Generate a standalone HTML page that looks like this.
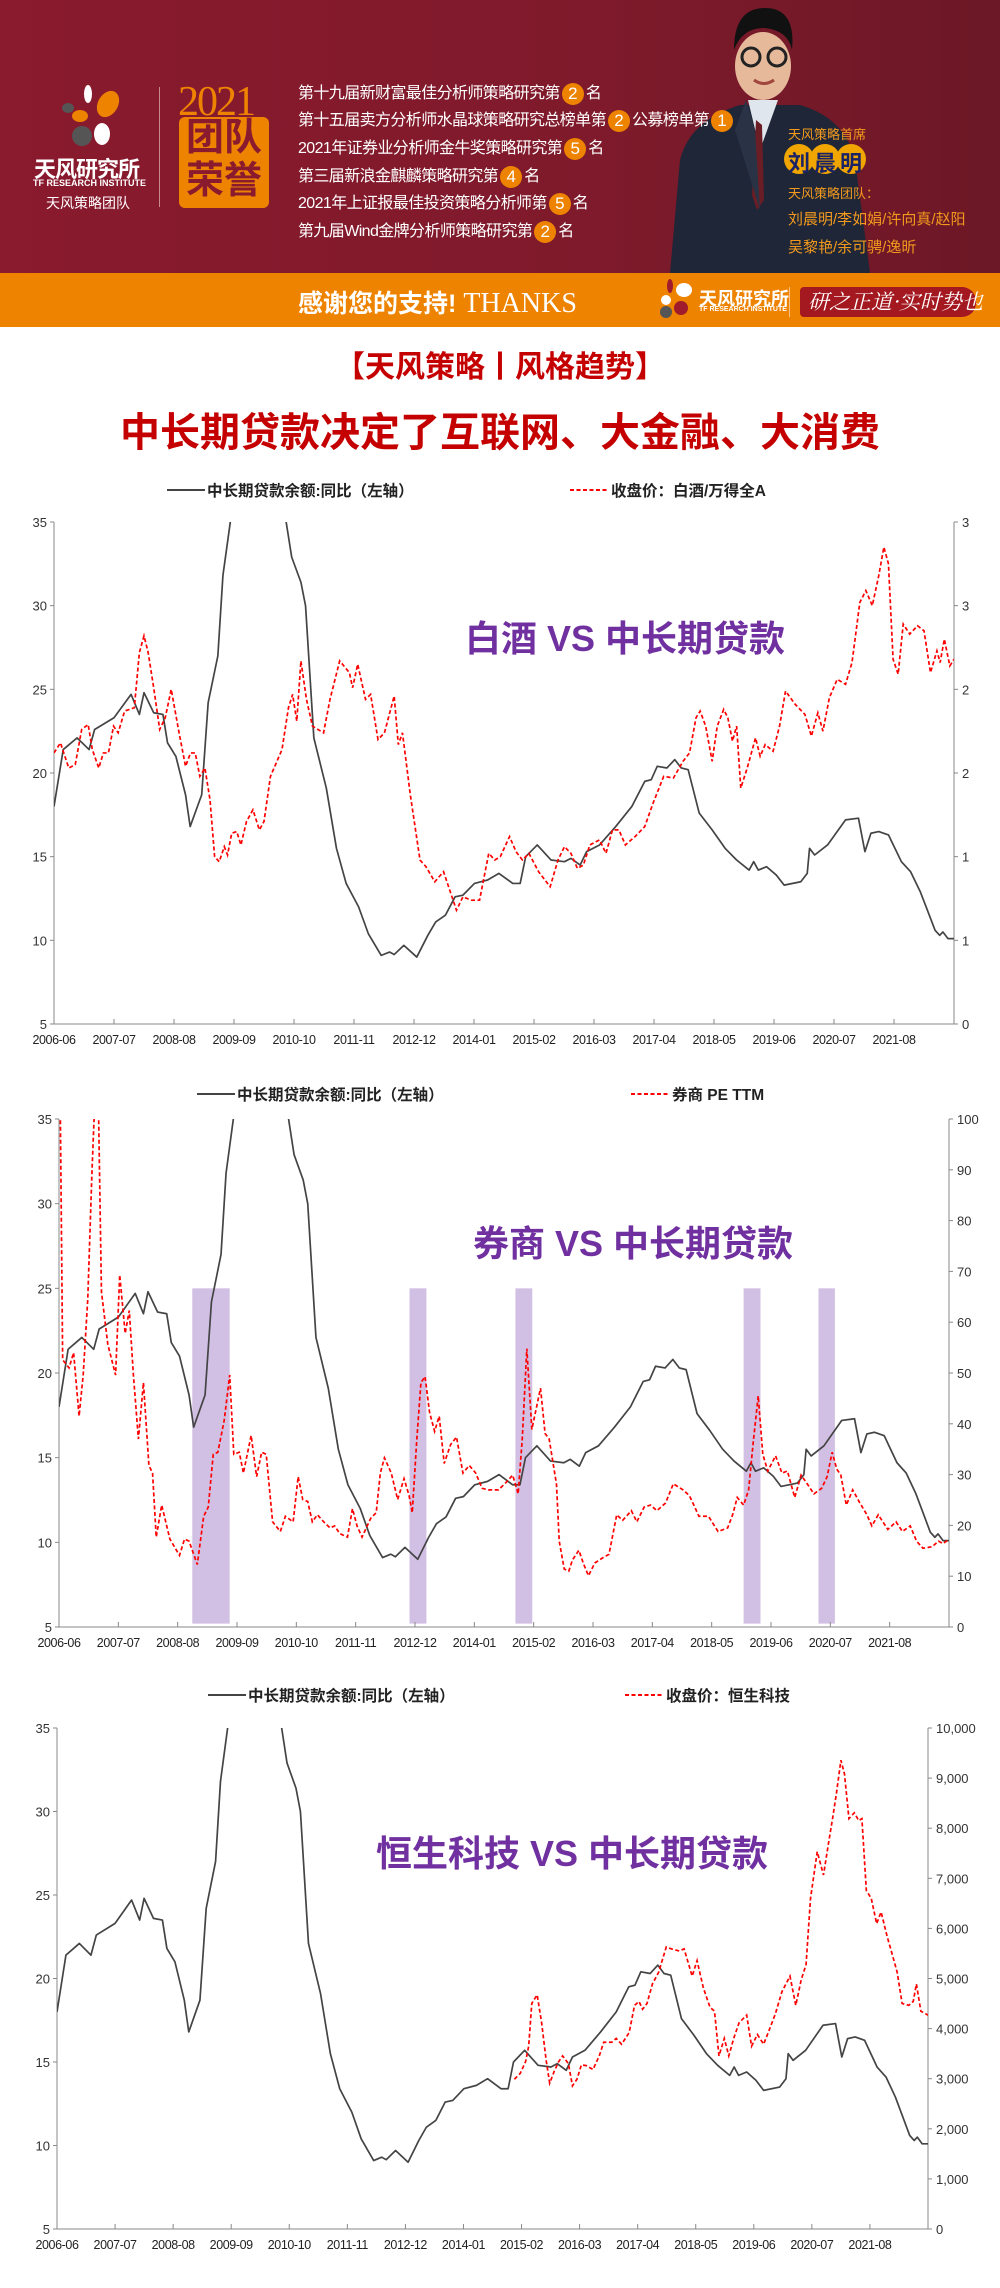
<!DOCTYPE html>
<html><head><meta charset="utf-8">
<style>
*{margin:0;padding:0;box-sizing:border-box}
body{width:1000px;height:2288px;background:#fff;position:relative;overflow:hidden;font-family:"Liberation Sans","Noto Sans CJK SC",sans-serif}
.a{position:absolute;white-space:nowrap}
#hdr{position:absolute;left:0;top:0;width:1000px;height:273px;background:linear-gradient(90deg,#8a1a2e 0%,#7e1a2b 60%,#6c1826 100%)}
#band{position:absolute;left:0;top:273px;width:1000px;height:54px;background:#ee8300}
.aw{color:#fff;font-size:16px;letter-spacing:-0.6px;left:298px}
.c{display:inline-block;width:22px;height:22px;border-radius:50%;background:#ee8300;color:#fff;text-align:center;line-height:22px;font-size:17px;margin:0 2px;vertical-align:middle;letter-spacing:0}
.or{color:#f39a1e}
</style></head><body>
<div id="hdr"></div>
<div id="band"></div>
<!-- person -->
<svg class="a" style="left:660px;top:0" width="220" height="273" viewBox="0 0 220 273">
<path d="M10 273 L20 160 Q30 120 80 105 L140 105 Q185 118 195 160 L210 273 Z" fill="#1e2637"/>
<path d="M88 100 L100 150 L118 100 Z" fill="#dfe6ee"/>
<path d="M96 120 L102 125 L104 200 L97 210 L92 195 Z" fill="#6b1d25"/>
<path d="M86 100 L75 130 L100 210 L95 130 Z" fill="#2a3346"/>
<ellipse cx="103" cy="66" rx="28" ry="34" fill="#e5b99a"/>
<path d="M74 50 Q74 8 105 8 Q136 8 132 50 Q128 30 104 28 Q82 28 74 50Z" fill="#111"/>
<circle cx="91" cy="57" r="9" fill="none" stroke="#222" stroke-width="3"/>
<circle cx="117" cy="57" r="9" fill="none" stroke="#222" stroke-width="3"/>
<path d="M94 80 Q104 87 114 80" stroke="#a0463d" stroke-width="3" fill="none"/>
</svg>
<!-- logo -->
<svg class="a" style="left:60px;top:84px" width="70" height="66" viewBox="0 0 70 66">
<ellipse cx="28" cy="10" rx="4" ry="9" fill="#fff"/>
<ellipse cx="48" cy="20" rx="10" ry="14" fill="#ee8300" transform="rotate(30 48 20)"/>
<ellipse cx="20" cy="32" rx="8" ry="6" fill="#ee8300"/>
<circle cx="22" cy="52" r="10" fill="#555"/>
<ellipse cx="42" cy="50" rx="8" ry="11" fill="#fff"/>
<ellipse cx="8" cy="24" rx="6" ry="5" fill="#555"/>
</svg>
<div class="a" style="left:34px;top:152px;color:#fff;font-size:22px;font-weight:bold;letter-spacing:-1px">天风研究所</div>
<div class="a" style="left:33px;top:178px;color:#fff;font-size:9px;font-weight:bold">TF RESEARCH INSTITUTE</div>
<div class="a" style="left:46px;top:193px;color:#fff;font-size:14px">天风策略团队</div>
<div class="a" style="left:159px;top:87px;width:1px;height:120px;background:#c98a8a"></div>
<div class="a" style="left:178px;top:78px;color:#ee8300;font-family:'Liberation Serif',serif;font-size:42px;letter-spacing:-2px">2021</div>
<div class="a" style="left:179px;top:117px;width:90px;height:91px;background:#ee8300;border-radius:6px;color:#8a1a2e;font-size:38px;font-weight:bold;line-height:43px;text-align:center">团队<br>荣誉</div>
<div class="a aw" style="top:79px">第十九届新财富最佳分析师策略研究第<span class="c">2</span>名</div>
<div class="a aw" style="top:106px">第十五届卖方分析师水晶球策略研究总榜单第<span class="c">2</span>公募榜单第<span class="c">1</span></div>
<div class="a aw" style="top:134px">2021年证券业分析师金牛奖策略研究第<span class="c">5</span>名</div>
<div class="a aw" style="top:162px">第三届新浪金麒麟策略研究第<span class="c">4</span>名</div>
<div class="a aw" style="top:189px">2021年上证报最佳投资策略分析师第<span class="c">5</span>名</div>
<div class="a aw" style="top:217px">第九届Wind金牌分析师策略研究第<span class="c">2</span>名</div>
<div class="a or" style="left:788px;top:124px;font-size:13px">天风策略首席</div>
<svg class="a" style="left:783px;top:143px" width="86" height="32"><circle cx="16" cy="16" r="15" fill="#f0a500"/><circle cx="42" cy="16" r="15" fill="#f0a500"/><circle cx="68" cy="16" r="15" fill="#f0a500"/></svg>
<div class="a" style="left:788px;top:146px;color:#1a2366;font-size:22px;font-weight:bold;letter-spacing:4px">刘晨明</div>
<div class="a or" style="left:788px;top:183px;font-size:13px">天风策略团队：</div>
<div class="a or" style="left:788px;top:208px;font-size:15px">刘晨明/李如娟/许向真/赵阳</div>
<div class="a or" style="left:788px;top:236px;font-size:15px">吴黎艳/余可骋/逸昕</div>
<!-- band -->
<div class="a" style="left:298px;top:284px;color:#fff;font-size:25px;font-weight:bold">感谢您的支持!<span style="font-family:'Liberation Serif',serif;font-weight:normal;font-size:28px"> THANKS</span></div>
<svg class="a" style="left:656px;top:276px" width="40" height="44"><ellipse cx="14" cy="10" rx="3" ry="7" fill="#a01c2c"/><ellipse cx="28" cy="14" rx="8" ry="7" fill="#fff"/><circle cx="10" cy="24" r="5" fill="#fff"/><circle cx="10" cy="36" r="6" fill="#555"/><circle cx="25" cy="32" r="7" fill="#a01c2c"/></svg>
<div class="a" style="left:699px;top:285px;color:#fff;font-size:18px;font-weight:bold">天风研究所</div>
<div class="a" style="left:699px;top:306px;color:#fff;font-size:7px;font-weight:bold">TF RESEARCH INSTITUTE</div>
<div class="a" style="left:789px;top:287px;width:1px;height:30px;background:#f8c080"></div>
<div class="a" style="left:800px;top:287px;width:176px;height:30px;background:#a41820;border-radius:4px 14px 14px 4px"></div>
<div class="a" style="left:808px;top:286px;color:#fff;font-size:21px;font-style:italic;font-family:'Noto Serif CJK SC',serif">研之正道·实时势也</div>
<!-- titles -->
<div class="a" style="left:0;width:1000px;text-align:center;top:342px;color:#c40000;font-size:30px;font-weight:bold">【天风策略丨风格趋势】</div>
<div class="a" style="left:0;width:1000px;text-align:center;top:400px;color:#c40000;font-size:40px;font-weight:bold">中长期贷款决定了互联网、大金融、大消费</div>

<svg id="ch" class="a" style="left:0;top:0" width="1000" height="2288"></svg>
<script>
const M=195;
const G=[[0,18],[2,21.4],[5,22.1],[7.6,21.4],[8.8,22.6],[13,23.3],[16.7,24.7],[18.5,23.5],[19.5,24.8],[21.6,23.6],[23.6,23.5],[24.6,21.8],[26.4,21],[28.5,18.7],[29.5,16.8],[32,18.7],[33.4,24.2],[35.5,27],[36.6,31.8],[38.2,35],[40,40],[44,42],[48,38],[50.3,35],[51.5,32.9],[53.5,31.4],[54.5,30],[56.3,22.1],[59,19.1],[61.2,15.5],[63.3,13.4],[66,12],[68.1,10.4],[70.9,9.1],[72.7,9.3],[73.7,9.15],[75.8,9.7],[78.6,9],[81,10.3],[82.7,11.1],[84.8,11.5],[86.9,12.6],[88.6,12.7],[91.1,13.4],[93.9,13.6],[96.4,14],[99.4,13.4],[101,13.4],[102.2,15],[104.7,15.7],[107.7,14.8],[110.6,14.7],[112,14.9],[114,14.5],[115.4,15.3],[118.2,15.7],[121.7,16.8],[125.2,18],[128,19.5],[129.4,19.6],[130.7,20.4],[132.8,20.3],[134.5,20.8],[135.9,20.3],[137.4,20.2],[139.8,17.6],[142.6,16.6],[145.4,15.5],[147.9,14.8],[150.6,14.2],[151.6,14.7],[152.6,14.2],[154.4,14.4],[156.5,13.9],[158.2,13.3],[161.8,13.5],[163.2,14],[163.7,15.5],[164.8,15.1],[167.6,15.7],[171.5,17.2],[174.3,17.3],[175.7,15.3],[177,16.4],[178.7,16.5],[180.8,16.3],[183.6,14.7],[185.6,14.1],[187.7,12.9],[189.1,11.9],[190.9,10.6],[191.9,10.3],[192.6,10.5],[193.7,10.1],[195,10.1]];
const R1=[[0,21.2],[1.4,21.8],[3.2,20.3],[4.6,20.5],[6,22.6],[7.4,22.9],[8.3,21.4],[9.7,20.3],[10.7,21.2],[11.8,21.2],[12.9,22.8],[13.9,22.4],[15.3,23.7],[17.4,23.9],[18.5,27.2],[19.5,28.2],[20.4,27.2],[21.6,25.1],[22.9,22.6],[24.1,23.3],[25.4,25],[27.1,22.4],[28.5,20.4],[29.6,21.2],[30.6,21.2],[31.6,19.8],[32.7,20.3],[33.8,18.4],[34.8,15],[35.8,14.7],[36.9,15.6],[37.6,15.1],[38.5,16.4],[39.6,16.5],[40.5,15.7],[41.7,17.1],[43.1,17.8],[44.5,16.6],[45.5,17.1],[46.9,19.8],[49.4,21.4],[50.8,23.9],[51.7,24.7],[52.6,23.1],[53.5,26.7],[54.7,24.4],[56,22.8],[58.4,22.4],[59.8,24.4],[61.9,26.7],[64,26],[64.7,25.1],[65.8,26.5],[67.5,24.4],[68.6,24.7],[70.2,22],[71.6,22.4],[73.7,24.6],[74.6,21.7],[75.5,22.4],[77.2,18.7],[79.3,14.8],[80.6,14.4],[82.5,13.5],[84.4,14.1],[85.5,13.2],[87.2,11.8],[88.6,12.6],[90.4,12.4],[92.2,12.4],[94.2,15.2],[95.5,14.8],[96.7,15],[98.7,16.2],[100.1,15.3],[101.5,14.8],[102.9,15.2],[105,14.1],[107.5,13.2],[109.2,14.8],[110.6,15.6],[112,15.2],[113.4,14.3],[114.7,14.5],[116.1,15.7],[118.2,16],[119.6,15.2],[121,16.6],[122.4,16.6],[123.8,15.7],[125.9,16.2],[128,16.8],[129.8,18.2],[132.1,19.8],[134.2,19.7],[136.3,20.7],[137.7,21.2],[139.1,23.3],[140,23.7],[141.2,22.8],[142.6,20.7],[143.7,22.8],[145.1,23.8],[146,23.3],[147,21.9],[147.9,22.8],[148.8,19.1],[150.2,20.3],[152,22.1],[153,21],[154.1,21.7],[155.8,21.3],[157.2,22.8],[158.5,24.9],[160.6,24.1],[162.7,23.5],[164.1,22.2],[165.5,23.6],[166.6,22.5],[168,24.5],[169.7,25.6],[171.5,25.3],[172.9,26.6],[174.6,30.2],[175.9,30.9],[177.3,30],[178.7,31.8],[179.8,33.5],[180.8,32.5],[181.8,26.8],[182.9,25.9],[184,28.9],[185.4,28.3],[187.1,28.8],[188.5,28.5],[189.9,26],[191.3,27.3],[192,26.6],[192.9,28],[194.1,26.4],[195,26.8]];
const R2=[[0.2,110],[0.8,52.6],[2.2,51],[3.2,54],[4.4,41.5],[5.3,49.6],[6.3,64.5],[7.2,89],[7.9,105],[8.6,105],[9.3,66],[10.7,55.6],[12.4,49.6],[13.3,69.3],[14.5,57.8],[15.4,62.3],[16.3,49.6],[17.4,37],[18.5,48.1],[19.7,31.8],[20.5,30.3],[21.3,17.7],[22.5,24],[24.3,17.3],[26.4,14.1],[27.5,17.3],[28.5,16.9],[30.3,12.3],[31.7,21.8],[32.7,23.6],[33.8,34],[34.8,34.4],[36.2,40.7],[37.4,49.6],[38.3,34],[39.5,34.4],[40.4,30.3],[42.1,37.7],[43.3,29.6],[44.4,34.4],[45.4,34],[46.8,20.7],[48.5,18.8],[49.6,21.8],[51.3,20.7],[52.4,29.6],[53.4,25.1],[54.5,24.7],[55.5,20.7],[56.6,22.1],[58,20.7],[59.4,19.5],[60.4,19.9],[61.5,18.4],[63.2,17.7],[64.3,23.3],[65.3,19.9],[66.4,17.7],[68.3,21.4],[69.5,22.5],[70.4,30.3],[71.3,33.3],[72.8,30.3],[74.2,25.1],[75.6,29.2],[76.7,25.9],[77.4,22.5],[78.4,37],[79.3,48.1],[80.2,49.3],[81.2,42.2],[82.3,38.5],[83.3,41.5],[84.4,32.2],[85.8,35.9],[87.1,37.4],[88.5,30.3],[89.9,31.8],[91.3,30.3],[92.7,27.3],[94.1,27],[96.3,27],[98,28.5],[99.4,29.9],[100.6,26.2],[101.5,37],[102.5,54.8],[103.6,38.9],[105.5,47],[106.5,38.1],[107.4,37],[109,28.1],[109.6,16.9],[110.7,11.4],[111.7,11],[112.5,13.2],[113.9,15.1],[114.9,12.5],[116,10.1],[117.4,12.6],[119.1,13.6],[120.5,14.3],[122.2,22.1],[123.5,21],[125.4,22.9],[126.6,20.7],[128.2,23.6],[129.6,24],[131,22.9],[132.9,24.4],[134.6,28.2],[136.7,27],[138.1,25.9],[139.1,24],[140.2,21.8],[142.3,21.8],[144.4,18.8],[146.5,19.5],[147.6,22.1],[148.6,25.5],[150,24],[151.1,27],[152.1,36.3],[153.2,45.5],[154.2,34],[155.3,30.7],[157,33.7],[158.4,30.3],[159.6,30.7],[161.2,25.5],[162.6,29.9],[164,28.1],[165.4,26.2],[167.1,27.3],[168.3,29.6],[169.4,34.4],[170.4,31.1],[171.3,29.9],[172.5,24],[173.9,27],[175.3,24.7],[177,22.1],[178.1,19.9],[179.5,22.1],[181.6,19.2],[183.4,20.7],[184.8,18.8],[186.5,19.9],[187.9,16.9],[189.3,15.5],[191.3,15.8],[192.7,16.9],[193.7,16.4],[195,17.3]];
const R3=[[102.4,2989],[103.7,3105],[104.9,3338],[105.6,3649],[106.3,4503],[107.5,4674],[108.5,4115],[109.5,3377],[110.3,2911],[111.3,3144],[112.3,3338],[113.2,3455],[114.5,3300],[115.4,2857],[116.4,2989],[117.4,3276],[118.5,3261],[120,3183],[121.4,3455],[122.4,3727],[124.2,3727],[125.2,3804],[126.4,3688],[128.1,3921],[129.3,4464],[130.3,4542],[131.1,4387],[132.1,4503],[133.3,4891],[134.7,5124],[136.4,5629],[137.6,5590],[139.3,5551],[140.4,5590],[142.2,5047],[143.3,5357],[144.7,4814],[146.2,4425],[147.2,4348],[148.2,3455],[149.4,3804],[150.4,3455],[151.5,3804],[152.7,4115],[154.4,4270],[155.5,3649],[156.8,3882],[158.2,3688],[159.4,3960],[160.8,4286],[162.3,4736],[164.1,5047],[165.4,4464],[166.6,4969],[167.7,5280],[168.7,6599],[170.2,7531],[171.6,7065],[172.7,7686],[173.7,8230],[174.5,8696],[175.5,9356],[176.3,9084],[177.3,8191],[178.5,8307],[179.5,8152],[180.2,8191],[181.2,6755],[182.3,6599],[183.5,6095],[184.5,6327],[185.9,5823],[186.9,5512],[188.1,5124],[189.2,4503],[190.7,4464],[191.7,4542],[192.4,4891],[193.4,4348],[195,4270]];
const labs=['2006-06','2007-07','2008-08','2009-09','2010-10','2011-11','2012-12','2014-01','2015-02','2016-03','2017-04','2018-05','2019-06','2020-07','2021-08'];
let s='';
const F='font-family="Liberation Sans, Noto Sans CJK SC, sans-serif"';
function chart(c,i){
 const X=m=>c.x0+(c.x1-c.x0)*m/M, Y=v=>c.y1-(c.y1-c.y0)*(v-5)/30, YR=r=>c.y1-(c.y1-c.y0)*(r-c.rmin)/(c.rmax-c.rmin);
 s+=`<clipPath id="cp${i}"><rect x="${c.x0}" y="${c.y0}" width="${c.x1-c.x0}" height="${c.y1-c.y0}"/></clipPath>`;
 (c.bars||[]).forEach(b=>{s+=`<rect x="${X(b[0])}" y="${Y(25)}" width="${X(b[1])-X(b[0])}" height="${Y(5.2)-Y(25)}" fill="#d2c0e4"/>`});
 s+=`<g stroke="#888" stroke-width="1" fill="none"><path d="M${c.x0} ${c.y0}V${c.y1}H${c.x1}V${c.y0}"/>`;
 for(let v=5;v<=35;v+=5){s+=`<path d="M${c.x0-4} ${Y(v)}H${c.x0}"/>`}
 c.rt.forEach(t=>{s+=`<path d="M${c.x1} ${YR(t[0])}H${c.x1+4}"/>`});
 labs.forEach((l,k)=>{s+=`<path d="M${X(k*13)} ${c.y1}V${c.y1-5}"/>`});
 s+=`</g>`;
 for(let v=5;v<=35;v+=5)s+=`<text x="${c.x0-7}" y="${Y(v)+5}" font-size="13" text-anchor="end" fill="#333" ${F}>${v}</text>`;
 c.rt.forEach(t=>{s+=`<text x="${c.x1+8}" y="${YR(t[0])+5}" font-size="13" fill="#333" ${F}>${t[1]}</text>`});
 labs.forEach((l,k)=>{s+=`<text x="${X(k*13)}" y="${c.y1+20}" font-size="12.5" text-anchor="middle" fill="#222" ${F} letter-spacing="-0.4">${l}</text>`});
 s+=`<g clip-path="url(#cp${i})"><polyline fill="none" stroke="#444" stroke-width="1.7" stroke-linejoin="round" points="${G.map(p=>X(p[0])+','+Y(p[1])).join(' ')}"/>`;
 s+=`<polyline fill="none" stroke="#f00" stroke-width="1.7" stroke-dasharray="4,2.5" points="${c.red.map(p=>X(p[0])+','+(c.rl?Y(p[1]):YR(p[1]))).join(' ')}"/></g>`;
 s+=`<path d="M${c.lg[0]} ${c.ly}h38" stroke="#444" stroke-width="2"/><text x="${c.lg[0]+40}" y="${c.ly+6}" font-size="15.5" font-weight="bold" fill="#222" ${F}>中长期贷款余额:同比（左轴）</text>`;
 s+=`<path d="M${c.lg[1]} ${c.ly}h38" stroke="#f00" stroke-width="2" stroke-dasharray="4,2.5"/><text x="${c.lg[1]+41}" y="${c.ly+6}" font-size="15.5" font-weight="bold" fill="#222" ${F}>${c.rname}</text>`;
 s+=`<text x="${c.ann[0]}" y="${c.ann[1]}" font-size="36" font-weight="bold" fill="#7030a0" ${F}>${c.annt}</text>`;
}
chart({x0:54,x1:954,y0:522,y1:1024,rmin:0,rmax:3,rt:[[0,'0'],[0.5,'1'],[1,'1'],[1.5,'2'],[2,'2'],[2.5,'3'],[3,'3']],red:R1,rl:1,lg:[167,570],ly:490,rname:'收盘价：白酒/万得全A',ann:[465,651],annt:'白酒 VS 中长期贷款'},1);
chart({x0:59,x1:949,y0:1119,y1:1627,rmin:0,rmax:100,rt:[0,10,20,30,40,50,60,70,80,90,100].map(v=>[v,v]),red:R2,lg:[197,631],ly:1094,rname:'券商 PE TTM',ann:[473,1256],annt:'券商 VS 中长期贷款',bars:[[29.2,37.4],[76.8,80.5],[100,103.7],[150,153.7],[166.4,170]]},2);
chart({x0:57,x1:928,y0:1728,y1:2229,rmin:0,rmax:10000,rt:[0,1000,2000,3000,4000,5000,6000,7000,8000,9000,10000].map(v=>[v,v.toLocaleString('en-US')]),red:R3,lg:[208,625],ly:1695,rname:'收盘价：恒生科技',ann:[376,1866],annt:'恒生科技 VS 中长期贷款'},3);
document.getElementById('ch').innerHTML=s;
</script>
</body></html>
